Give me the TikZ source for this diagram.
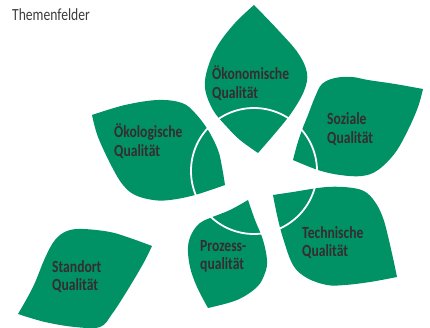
\documentclass[tikz,border=0pt]{standalone}
\usepackage{fontspec}
\setmainfont{Carlito}
\newfontfamily\labelfont{Carlito}[FakeStretch=0.80]
\newfontfamily\titlefont{Carlito}[FakeStretch=0.80]
\definecolor{leafgreen}{RGB}{0,145,101}
\definecolor{labeltext}{RGB}{52,46,47}
\definecolor{titletext}{RGB}{60,60,60}
\begin{document}
\begin{tikzpicture}[x=1pt,y=-1pt,
  leaf/.style={fill=leafgreen},
  edge/.style={smooth,tension=0.6},
  lbl/.style={anchor=base west,inner sep=0pt,align=left,text=labeltext,
    font=\labelfont\bfseries\fontsize{17}{18.5}\selectfont},
  ring/.style={draw=white,line width=1.8pt}]
\useasboundingbox[fill=white] (0,0) rectangle (430,328);
% Oekonomische
\fill[leaf] plot[edge] coordinates {(254,5) (278,30) (298,53) (307,73) (304,91) (292,112) (277,131) (258,153)}
  -- plot[edge] coordinates {(258,153) (240,140) (227,127) (213,110) (205,88) (208,67) (218,45) (235,23) (254,5)} -- cycle;
% Soziale
\fill[leaf] plot[edge] coordinates {(423,89) (395,84) (368,80) (352,77) (335,78) (322,84) (315,97) (308,115) (302,130) (297,145) (293,160)}
  -- plot[edge] coordinates {(293,160) (318,170) (340,175) (362,176) (378,170) (395,153) (408,130) (418,107) (423,89)} -- cycle;
% Technische
\fill[leaf] plot[edge] coordinates {(273,195) (293,192) (327,187) (353,188) (367,193) (377,205) (383,218) (387,232) (393,258) (397,277)}
  -- plot[edge] coordinates {(397,277) (370,282) (345,285) (327,285) (307,278) (293,265) (283,238) (277,215) (273,195)} -- cycle;
% Oekologische
\fill[leaf] plot[edge] coordinates {(92,115) (125,105) (158,100) (182,103) (195,113) (208,130) (218,150) (222,167) (225,185)}
  -- plot[edge] coordinates {(225,185) (195,195) (170,200) (153,200) (135,195) (123,185) (112,167) (98,137) (92,115)} -- cycle;
% Prozess
\fill[leaf] plot[edge] coordinates {(248,200) (230,210) (210,218) (200,223) (192,233) (188,247) (190,267) (197,287) (208,308)}
  -- plot[edge] coordinates {(208,308) (237,300) (257,287) (265,273) (267,260) (263,240) (255,220) (248,200)} -- cycle;
% Standort
\fill[leaf] plot[edge] coordinates {(152,246) (130,238) (110,232) (83,229) (67,231) (55,240) (45,258) (33,287) (18,314)}
  -- plot[edge] coordinates {(18,314) (45,322) (75,327) (100,327) (112,314) (127,291) (143,264) (152,246)} -- cycle;
% ring
\draw[ring] (254,171) circle[radius=63pt];
% labels (anchor = baseline of the last line)
\node[anchor=base west,inner sep=0pt,text=titletext,font=\titlefont\fontsize{17}{20}\selectfont] (title) at (12,20.7) {Themenfelder};
\node[lbl] (oekonomisch) at (212,98.5) {Ökonomische\\Qualität};
\node[lbl] (sozial) at (327,143.5) {Soziale\\Qualität};
\node[lbl] (oekologisch) at (114,156.5) {Ökologische\\Qualität};
\node[lbl] (technisch) at (302,256.5) {Technische\\Qualität};
\node[lbl] (standort) at (52,290.5) {Standort\\Qualität};
\node[lbl] (prozess) at (200,269.5) {Prozess-\\qualität};
\end{tikzpicture}
\end{document}
